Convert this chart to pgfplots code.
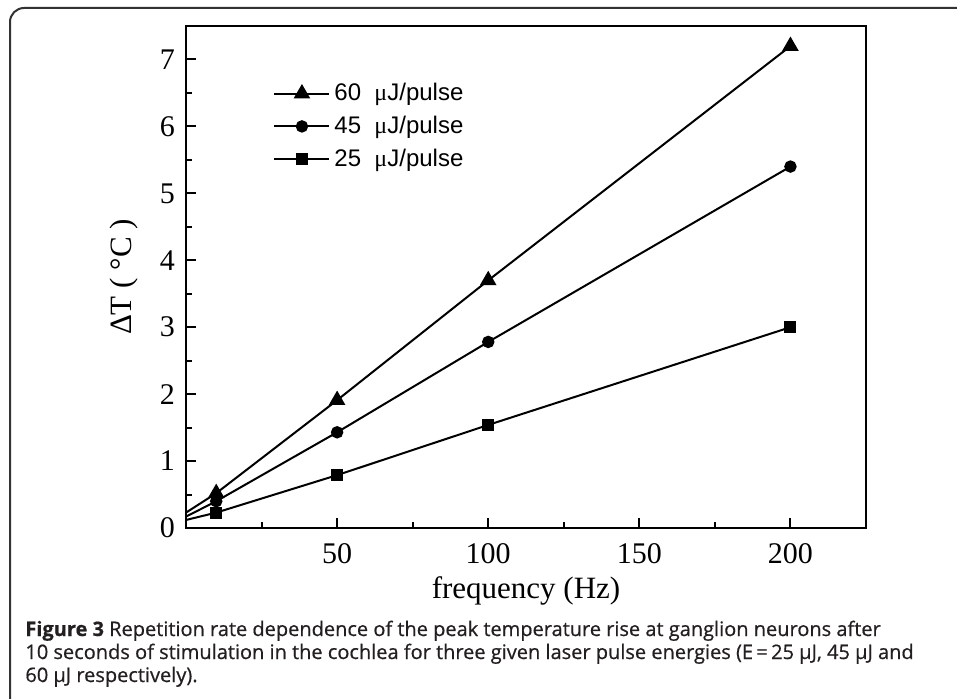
\documentclass[border=0pt]{standalone}
\usepackage{fontspec}
\setmainfont{Liberation Serif}
\newfontfamily\capfont{Open Sans}[FakeBold=0.6]
\newfontfamily\legfont{Liberation Sans}
\newfontfamily\mufont{Liberation Serif}
\usepackage{pgfplots}
\pgfplotsset{compat=1.18}
\definecolor{captxt}{HTML}{231F20}
\begin{document}
\begin{tikzpicture}[x=1pt,y=1pt]
\useasboundingbox (0,0) rectangle (478.5,349);
\draw[line width=1pt, color=black!80, rounded corners=7pt] (5,-10) rectangle (500,345);
\begin{axis}[
  at={(93pt,85pt)}, anchor=south west,
  width=340pt, height=251pt, scale only axis,
  xmin=0, xmax=225, ymin=0, ymax=7.5,
  xtick={50,100,150,200}, minor xtick={25,75,125,175},
  ytick={0,1,2,3,4,5,6,7}, minor ytick={0.5,1.5,2.5,3.5,4.5,5.5,6.5},
  xtick pos=bottom, ytick pos=left,
  tick align=inside,
  major tick length=5pt, minor tick length=3pt,
  every tick/.style={line width=1pt, black},
  axis line style={line width=1.2pt},
  tick label style={font=\fontsize{15}{18}\selectfont},
  xticklabel style={yshift=-4pt},
  yticklabel style={xshift=-2pt},
  /pgf/number format/assume math mode=true,
  xlabel={frequency (Hz)},
  ylabel={ΔT~(~°C~)},
  ylabel shift=4pt,
  label style={font=\fontsize{15.5}{18}\selectfont},
  legend style={draw=none, fill=none, at={(0.128,0.80)}, anchor=west,
    font=\legfont\fontsize{12}{14}\selectfont, row sep=2.2pt, inner sep=0pt},
  legend cell align=left,
  legend image code/.code={\draw[mark repeat=2,mark phase=2] plot coordinates {(0pt,0pt)(13.75pt,0pt)(27.5pt,0pt)};},
]
\addplot[black, line width=1pt, mark=triangle*, mark size=3.8pt] coordinates {(10,0.52) (50,1.91) (100,3.7) (200,7.2)};
\addlegendentry{60~~{\mufont μ}J/pulse}
\addplot[black, line width=1pt, mark=*, mark size=2.6pt] coordinates {(10,0.4) (50,1.43) (100,2.78) (200,5.4)};
\addlegendentry{45~~{\mufont μ}J/pulse}
\addplot[black, line width=1pt, mark=square*, mark size=2.5pt] coordinates {(10,0.23) (50,0.79) (100,1.54) (200,3.0)};
\addlegendentry{25~~{\mufont μ}J/pulse}
\addplot[black, line width=1pt, no marks, forget plot] coordinates {(0,0.23) (10,0.52)};
\addplot[black, line width=1pt, no marks, forget plot] coordinates {(0,0.17) (10,0.4)};
\addplot[black, line width=1pt, no marks, forget plot] coordinates {(0,0.12) (10,0.23)};
\end{axis}
\begin{scope}[every node/.style={anchor=base west, inner sep=0pt, text=captxt, font=\capfont\fontsize{10}{11.5}\selectfont}]
\node at (12.5,31) {\textbf{Figure 3} Repetition rate dependence of the peak temperature rise at ganglion neurons after};
\node at (12.5,19.5) {10 seconds of stimulation in the cochlea for three given laser pulse energies (E\,=\,25 μJ, 45 μJ and};
\node at (12.5,8) {60 μJ respectively).};
\end{scope}
\end{tikzpicture}
\end{document}
